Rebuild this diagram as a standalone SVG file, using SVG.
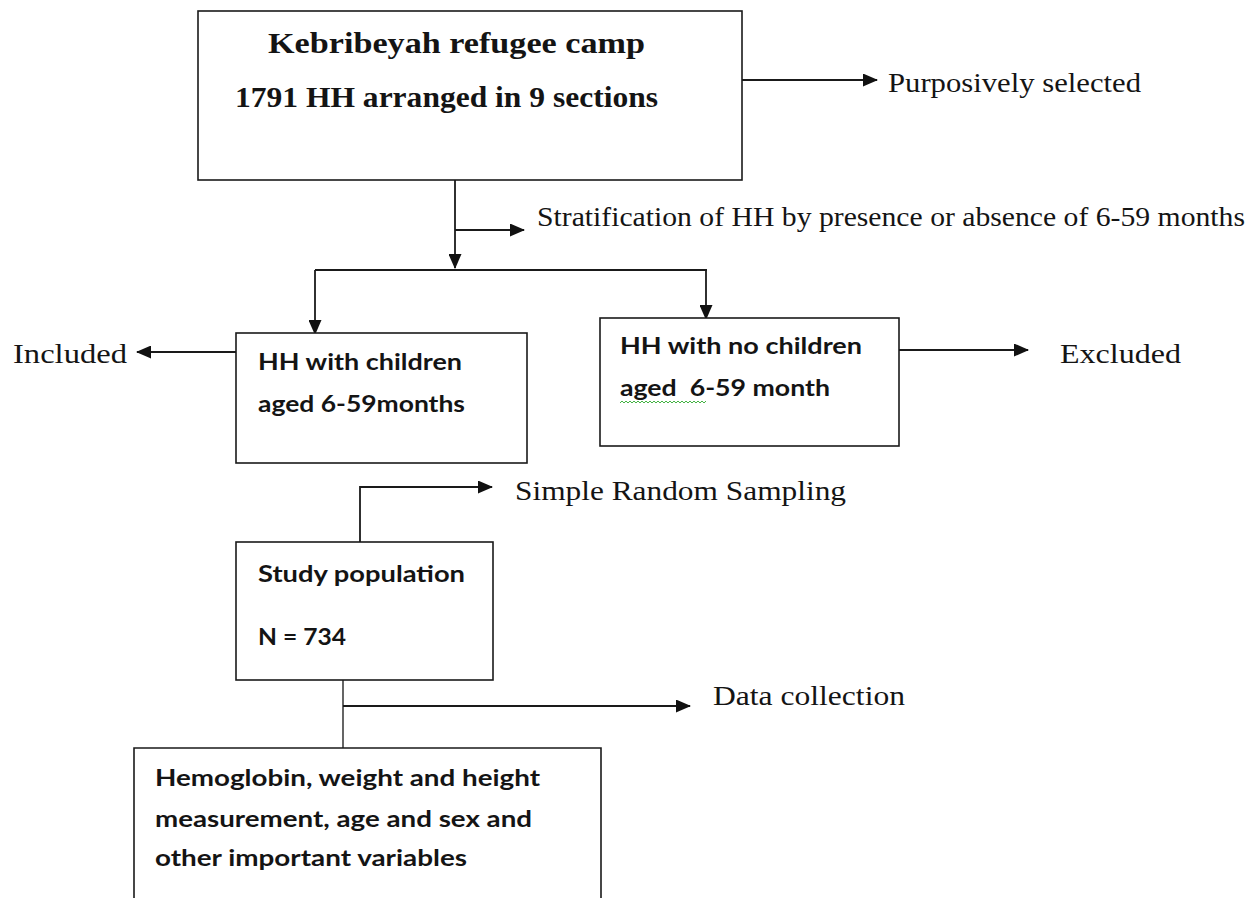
<svg xmlns="http://www.w3.org/2000/svg" width="1257" height="898" viewBox="0 0 1257 898">
<style>
.box{fill:#fff;stroke:#1a1a1a;stroke-width:1.6}
.ln{fill:none;stroke:#1a1a1a;stroke-width:1.8}
.ser{font-family:"Liberation Serif","Times New Roman",serif;font-size:27px;fill:#141414}
.serb{font-family:"Liberation Serif","Times New Roman",serif;font-size:29px;font-weight:bold;fill:#141414}
.san{font-family:Lato,"Open Sans","Liberation Sans",sans-serif;font-size:23px;font-weight:bold;fill:#141414}
</style>
<defs>
<marker id="ah" markerUnits="userSpaceOnUse" markerWidth="15" markerHeight="13" refX="14" refY="6.5" orient="auto">
<path d="M0,0 L15,6.5 L0,13 Z" fill="#111"/>
</marker>
</defs>
<rect width="1257" height="898" fill="#fff"/>
<g id="connectors">
<line class="ln" x1="742" y1="80" x2="877" y2="80" marker-end="url(#ah)"/>
<line class="ln" x1="455" y1="180" x2="455" y2="268" marker-end="url(#ah)"/>
<line class="ln" x1="455" y1="230" x2="524" y2="230" marker-end="url(#ah)"/>
<line class="ln" x1="315" y1="270" x2="707" y2="270"/>
<line class="ln" x1="315" y1="270" x2="315" y2="334" marker-end="url(#ah)"/>
<line class="ln" x1="706" y1="270" x2="706" y2="319" marker-end="url(#ah)"/>
<line class="ln" x1="236" y1="352" x2="137" y2="352" marker-end="url(#ah)"/>
<line class="ln" x1="899" y1="350" x2="1028" y2="350" marker-end="url(#ah)"/>
<polyline class="ln" points="360,542 360,487 492,487" marker-end="url(#ah)"/>
<line class="ln" x1="343" y1="657" x2="343" y2="748" style="stroke:#555"/>
<line class="ln" x1="343" y1="706" x2="690" y2="706" marker-end="url(#ah)"/>
</g>
<g id="camp">
<rect class="box" x="198" y="11" width="544" height="169"/>
<text class="serb" x="268" y="53" textLength="377" lengthAdjust="spacingAndGlyphs">Kebribeyah refugee camp</text>
<text class="serb" x="235" y="107" textLength="423" lengthAdjust="spacingAndGlyphs">1791 HH arranged in 9 sections</text>
</g>
<g id="purposive"><text class="ser" x="888" y="92" textLength="253" lengthAdjust="spacingAndGlyphs">Purposively selected</text></g>
<g id="stratification"><text class="ser" x="537" y="226" textLength="708" lengthAdjust="spacingAndGlyphs">Stratification of HH by presence or absence of 6-59 months</text></g>
<g id="with-children">
<rect class="box" x="236" y="333" width="291" height="130"/>
<text class="san" x="258" y="370" textLength="204" lengthAdjust="spacingAndGlyphs">HH with children</text>
<text class="san" x="258" y="412" textLength="207" lengthAdjust="spacingAndGlyphs">aged 6-59months</text>
</g>
<g id="included"><text class="ser" x="13" y="363" textLength="114" lengthAdjust="spacingAndGlyphs">Included</text></g>
<g id="no-children">
<rect class="box" x="600" y="318" width="299" height="128"/>
<text class="san" x="620" y="354" textLength="242" lengthAdjust="spacingAndGlyphs">HH with no children</text>
<text class="san" x="620" y="396" textLength="210" lengthAdjust="spacingAndGlyphs" xml:space="preserve">aged  6-59 month</text>
<path d="M620,403 l2,-2 l2,2 l2,-2 l2,2 l2,-2 l2,2 l2,-2 l2,2 l2,-2 l2,2 l2,-2 l2,2 l2,-2 l2,2 l2,-2 l2,2 l2,-2 l2,2 l2,-2 l2,2 l2,-2 l2,2 l2,-2 l2,2 l2,-2 l2,2 l2,-2 l2,2 l2,-2 l2,2 l2,-2 l2,2 l2,-2 l2,2 l2,-2 l2,2 l2,-2 l2,2 l2,-2 l2,2 l2,-2 l2,2 l2,-2" fill="none" stroke="#2eaa2e" stroke-width="0.9"/>
</g>
<g id="excluded"><text class="ser" x="1060" y="363" textLength="121" lengthAdjust="spacingAndGlyphs">Excluded</text></g>
<g id="srs"><text class="ser" x="515" y="500" textLength="331" lengthAdjust="spacingAndGlyphs">Simple Random Sampling</text></g>
<g id="study">
<rect class="box" x="236" y="542" width="257" height="138"/>
<text class="san" x="258" y="582" textLength="207" lengthAdjust="spacingAndGlyphs">Study population</text>
<text class="san" x="258" y="645" textLength="88" lengthAdjust="spacingAndGlyphs">N = 734</text>
</g>
<g id="data-collection"><text class="ser" x="713" y="705" textLength="192" lengthAdjust="spacingAndGlyphs">Data collection</text></g>
<g id="measurements">
<path class="box" d="M134,900 L134,748 L601,748 L601,900"/>
<text class="san" x="155" y="786" textLength="385" lengthAdjust="spacingAndGlyphs">Hemoglobin, weight and height</text>
<text class="san" x="155" y="827" textLength="377" lengthAdjust="spacingAndGlyphs">measurement, age and sex and</text>
<text class="san" x="155" y="866" textLength="312" lengthAdjust="spacingAndGlyphs">other important variables</text>
</g>
</svg>
